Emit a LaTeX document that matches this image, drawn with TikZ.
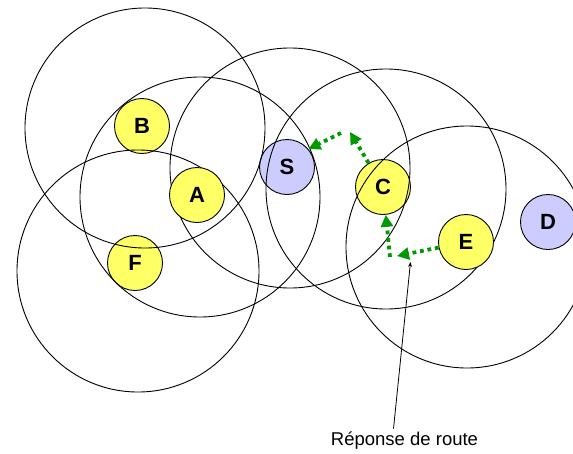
\documentclass[tikz,border=0pt]{standalone}
\usepackage{fontspec}
\setmainfont{Liberation Sans}
\usepackage{tikz}
\usetikzlibrary{arrows.meta,positioning}

\definecolor{hostyellow}{RGB}{255,255,102}
\definecolor{endlilac}{RGB}{204,204,255}
\definecolor{routegreen}{RGB}{0,153,0}

\begin{document}
\begin{tikzpicture}[x=1pt,y=-1pt,
  host/.style={circle, draw, line width=0.9pt, fill=hostyellow, minimum size=55pt,
    inner sep=0pt, font=\fontsize{22}{22}\selectfont\bfseries},
  endpt/.style={host, fill=endlilac},
  radiorange/.style={line width=0.9pt},
  rrep/.style={routegreen, line width=3.8pt, dash pattern=on 3.8pt off 3.8pt,
    -{Triangle[length=12pt,width=12pt]}}]
\useasboundingbox (0,0) rectangle (573,453);

% stations whose range lines show through them
\node[endpt] (S) at (287,167) {S};
\node[host] (C) at (383,187) {C};
\node[host] (F) at (135,263) {F};
\node[host] (B) at (142,126) {B};
\node[endpt] (D) at (548,222) {D};

% radio ranges
\draw[radiorange] (290,168) circle (120);
\draw[radiorange] (386,189) circle (120);
\draw[radiorange] (145,128) circle (120);
\draw[radiorange] (138,271) circle (121);

\node[host] (A) at (197,195) {A};
\node[host] (E) at (466,242) {E};

\draw[radiorange] (200,197) circle (120);
\draw[radiorange] (467,247) circle (121);

% route reply E -> C -> S
\coordinate (p1) at (397,256);
\coordinate (p2) at (390,257);
\coordinate (p3) at (350,132);
\coordinate (p4) at (341,133);
\draw[rrep] (E) -- (p1);
\draw[rrep] (p2) -- (C);
\draw[rrep] (C) -- (p3);
\draw[rrep] (p4) -- (S.40);

\node[font=\fontsize{18.5}{18.5}\selectfont] (lbl) at (404.5,441) {Réponse de route};
\coordinate (tip) at (410.5,262);
\draw[line width=0.8pt, -{Stealth[length=5pt,width=4pt]}] ([xshift=-11pt]lbl.north) -- (tip);
\end{tikzpicture}
\end{document}
